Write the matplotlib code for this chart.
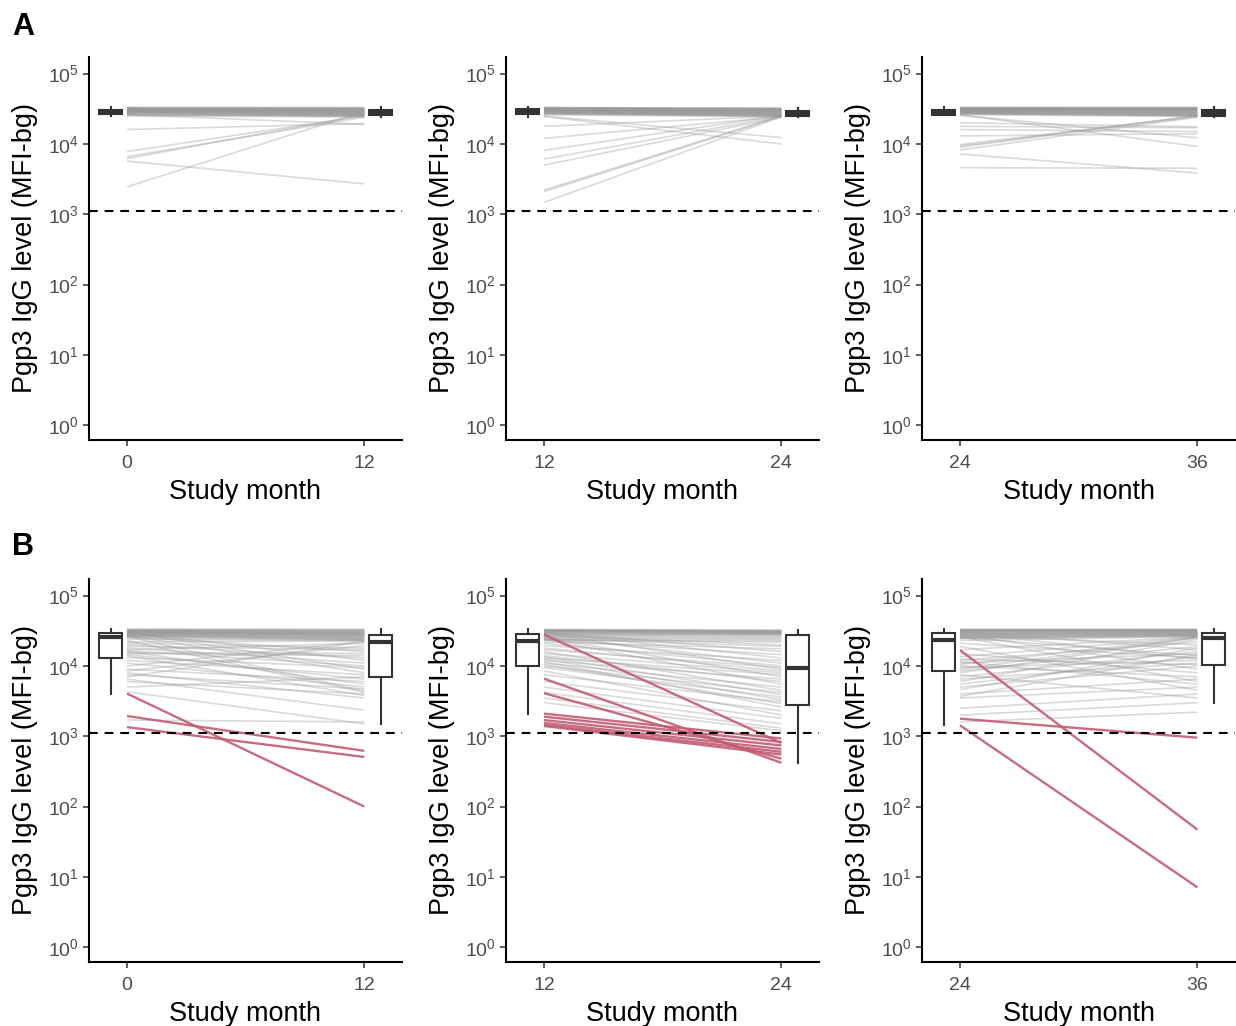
import numpy as np
import matplotlib
matplotlib.use("Agg")
from matplotlib import pyplot as plt
from matplotlib import cbook

plt.rcParams['font.family'] = ['Liberation Sans', 'DejaVu Sans']
plt.rcParams['mathtext.fontset'] = 'custom'
plt.rcParams['mathtext.rm'] = 'Liberation Sans'

# study months at the start of each interval
starts = [0, 12, 24]
threshold = 1110

# ---- panel A (no seroreversion) ----
a1_start = [33000, 32800, 32500, 32300, 32000, 31800, 31600, 31400, 31200, 31000, 30800,
            30600, 30400, 30200, 30000, 29800, 29600, 29400, 29200, 29000, 28800, 28600,
            28400, 28200, 28000, 27700, 27400, 27100, 26800, 26500, 26000, 25500, 25000,
            16000, 7800, 6600, 6200, 5700, 2450, 26000]
a1_end = [32500, 33000, 32000, 31500, 32200, 31000, 30800, 31200, 30500, 30000, 29800,
          30200, 29500, 29000, 29300, 28800, 28500, 28000, 28300, 27800, 27500, 27000,
          27200, 26800, 26500, 26000, 25500, 26200, 25000, 24800, 24500, 25800, 24200,
          19500, 25000, 24000, 26000, 2700, 29000, 19000]

a2_start = [33000, 32800, 32600, 32400, 32200, 32000, 31800, 31600, 31400, 31200, 31000,
            30800, 30600, 30400, 30200, 30000, 29800, 29600, 29400, 29200, 29000, 28800,
            28600, 28400, 28200, 28000, 27800, 27600, 27400, 27200, 27000, 26500, 26000,
            17800, 12000, 8100, 6100, 5000, 2200, 2100, 1470, 25000, 24500]
a2_end = [32000, 31800, 32500, 31500, 31000, 31200, 30800, 30500, 30200, 30000, 29700,
          29900, 29400, 29100, 28800, 28600, 28900, 28300, 28000, 27800, 27500, 27200,
          27000, 26700, 26400, 26600, 26100, 25800, 25500, 25200, 25000, 24700, 24500,
          25000, 24500, 25500, 24800, 24000, 25200, 24600, 24300, 12300, 10000]

a3_start = [33000, 32800, 32600, 32400, 32200, 32000, 31800, 31600, 31400, 31200, 31000,
            30800, 30600, 30400, 30200, 30000, 29800, 29600, 29400, 29200, 29000, 28800,
            28600, 28400, 28200, 28000, 27800, 27600, 27400, 27200, 27000, 26600, 26200,
            20000, 17800, 16000, 13000, 9800, 9400, 9000, 8200, 7200, 4600, 26000, 25500]
a3_end = [32800, 33000, 32300, 32500, 31800, 32000, 31400, 31600, 31000, 31200, 30600,
          30800, 30200, 30400, 29800, 30000, 29400, 29100, 28800, 28500, 28200, 27900,
          27600, 27300, 27000, 26700, 26400, 26100, 25800, 25500, 25200, 24900, 24600,
          17500, 17000, 15000, 14000, 25000, 24500, 25500, 24000, 3850, 4500, 9200, 12200]

# ---- panel B (with seroreversion) ----
b1_start = [33000, 32800, 32500, 32300, 32000, 31800, 31500, 31300, 31000, 30800, 30600,
            30400, 30300, 30200, 30100, 30000,
            29800, 29500, 29200, 29000, 28700, 28400, 28100, 27800, 27500, 27200, 27000,
            26800, 26600, 26400, 26200, 26000,
            25000, 24000, 23000, 22000, 21000, 20000, 19000, 18000, 17000, 16500, 16000,
            15500, 15000, 14500, 14000, 13200,
            12000, 11000, 10000, 9000, 8500, 8000, 7500, 7000, 6500, 6000, 5000, 4300, 1700]
b1_end = [33000, 32500, 32000, 31800, 31500, 31000, 30500, 30200, 30000, 29500, 29200,
          29000, 28600, 12000, 28300, 9000,
          28000, 27700, 27400, 27000, 26600, 26200, 25800, 25400, 25000, 24600, 8000,
          24200, 23800, 4400, 23500, 16000,
          23200, 22900, 4200, 22600, 18000, 13000, 17000, 11000, 21000, 10000, 5500,
          15000, 14000, 6500, 3800, 9500,
          7500, 5000, 22400, 6000, 19500, 3500, 4700, 22200, 2350, 4000, 7000, 1500, 1600]
b1_red_start = [4050, 1940, 1350]
b1_red_end = [100, 620, 507]

b2_start = [33000, 32800, 32500, 32200, 32000, 31700, 31400, 31200, 31000, 30700, 30500,
            30300, 30000, 29700, 29400, 29100,
            28800, 28500, 27600, 27200, 26800, 26400, 26000, 25600, 25200, 24800, 24400,
            24000, 23700, 23500, 23300,
            22000, 21000, 19500, 18000, 17000, 16000, 15000, 14000, 13500, 13000, 12500,
            12000, 11500, 11000, 10500, 10000,
            9500, 8500, 7500, 6000, 5000, 4200, 3500, 3000]
b2_end = [32500, 32000, 31500, 31200, 31000, 30800, 30500, 30200, 30000, 29700, 29400,
          16000, 29000, 13000, 28700, 9000,
          28400, 28100, 27800, 27000, 20000, 26000, 11000, 25000, 7000, 24000, 19000,
          5500, 23000, 14500, 22000,
          17500, 10000, 12000, 8500, 9500, 4500, 8000, 6000, 3900, 7500, 3300,
          6500, 2600, 5000, 2900, 4200,
          3600, 2000, 3100, 2300, 1800, 1500, 1300, 1200]
b2_red_start = [28000, 6600, 4100, 2100, 1900, 1700, 1550, 1450, 1400]
b2_red_end = [800, 420, 480, 930, 830, 740, 660, 600, 550]

b3_start = [33000, 32800, 32600, 32400, 32200, 32000, 31800, 31600, 31400, 31200, 31000,
            30700, 30400, 30100, 29800, 29500,
            29000, 28700, 28400, 28100, 27800, 27500, 27200, 26900, 26600, 26300, 26000,
            25700, 25400, 25100, 24800, 24500,
            23000, 21000, 19000, 17000, 15000, 13500, 12500, 12000, 11500, 11000, 10500,
            10000, 9500, 9000, 8500,
            8000, 7500, 7000, 6500, 6000, 5500, 5000, 4600, 4000, 3700, 3500, 2500, 2000, 1600]
b3_end = [33000, 32800, 32600, 32400, 32200, 32000, 31800, 31600, 31400, 17000, 31200,
          31000, 30700, 12500, 30400, 30100,
          29800, 29500, 29000, 28800, 9000, 28500, 28200, 20000, 28000, 27700, 6000,
          27400, 14000, 27100, 26800, 26500,
          26200, 13000, 4500, 26000, 8000, 25800, 10500, 22000, 5500, 15000, 25600,
          7000, 12000, 25400, 19000,
          25200, 3500, 16000, 11000, 24000, 13500, 10000, 18000, 6500, 14500, 5000, 4000, 3000, 2200]
b3_red_start = [16800, 1780, 1430]
b3_red_end = [47, 955, 7.1]

rows = [
    [(a1_start, a1_end, [], []), (a2_start, a2_end, [], []), (a3_start, a3_end, [], [])],
    [(b1_start, b1_end, b1_red_start, b1_red_end),
     (b2_start, b2_end, b2_red_start, b2_red_end),
     (b3_start, b3_end, b3_red_start, b3_red_end)],
]

gray = '#999999'
red = '#c25c75'
dark = '#333333'
tick_col = '#4d4d4d'

fig = plt.figure(figsize=(12.36, 10.26), dpi=100)

lefts = [0.072, 0.4094, 0.7460]
bottoms = [0.5712, 0.0624]
w, h = 0.2532, 0.3735


def log_box_stats(vals):
    # box stats computed on the log scale (as ggplot does with scale_y_log10)
    st = cbook.boxplot_stats(np.log10(vals), whis=1.5)[0]
    for k in ['med', 'q1', 'q3', 'whislo', 'whishi', 'mean', 'cilo', 'cihi']:
        st[k] = 10 ** st[k]
    st['fliers'] = []
    return st


for r, row in enumerate(rows):
    for c, (s_vals, e_vals, rs_vals, re_vals) in enumerate(row):
        ax = fig.add_axes([lefts[c], bottoms[r], w, h])
        s = starts[c]
        for y0, y1 in zip(s_vals, e_vals):
            ax.plot([s, s + 12], [y0, y1], color=gray, alpha=0.36, lw=1.2,
                    solid_capstyle='butt', zorder=2)
        for y0, y1 in zip(rs_vals, re_vals):
            ax.plot([s, s + 12], [y0, y1], color=red, alpha=0.9, lw=1.7,
                    solid_capstyle='butt', zorder=3)

        all_start = list(s_vals) + list(rs_vals)
        all_end = list(e_vals) + list(re_vals)
        stats = [log_box_stats(all_start), log_box_stats(all_end)]
        ax.bxp(stats, positions=[s - 0.83, s + 12.83], widths=1.15,
               showfliers=False, showcaps=False, patch_artist=True,
               boxprops=dict(facecolor='white', edgecolor=dark, linewidth=1.5),
               whiskerprops=dict(color=dark, linewidth=1.5),
               medianprops=dict(color=dark, linewidth=3),
               zorder=4)

        ax.axhline(threshold, color='black', lw=1.5, dashes=(4.2, 3.3), zorder=5)

        ax.set_yscale('log')
        ax.set_ylim(10 ** -0.21, 10 ** 5.24)
        ax.set_xlim(s - 1.92, s + 13.9)
        ax.set_yticks([10 ** k for k in range(6)])
        ax.set_yticklabels([r'$\mathregular{10^{%d}}$' % k for k in range(6)])
        ax.yaxis.set_minor_locator(matplotlib.ticker.NullLocator())
        ax.set_xticks([s, s + 12])
        ax.set_xticklabels([str(s), str(s + 12)])
        ax.tick_params(axis='both', colors='#333333', labelcolor=tick_col,
                       labelsize=14, length=4.5, width=1.1, pad=3)
        ax.tick_params(axis='x', pad=6)

        for sp in ['top', 'right']:
            ax.spines[sp].set_visible(False)
        for sp in ['left', 'bottom']:
            ax.spines[sp].set_linewidth(1.5)

        ax.set_xlabel('Study month', fontsize=19.5)
        ax.set_ylabel('Pgp3 IgG level (MFI-bg)', fontsize=19.5)
        ax.xaxis.set_label_coords(0.5, -0.103)
        ax.xaxis.label.set_va('top')
        ax.yaxis.set_label_coords(-0.163, 0.5)

fig.text(0.0095, 0.966, 'A', fontsize=22, fontweight='bold')
fig.text(0.0095, 0.459, 'B', fontsize=22, fontweight='bold')

plt.savefig('out.png', dpi=100)
